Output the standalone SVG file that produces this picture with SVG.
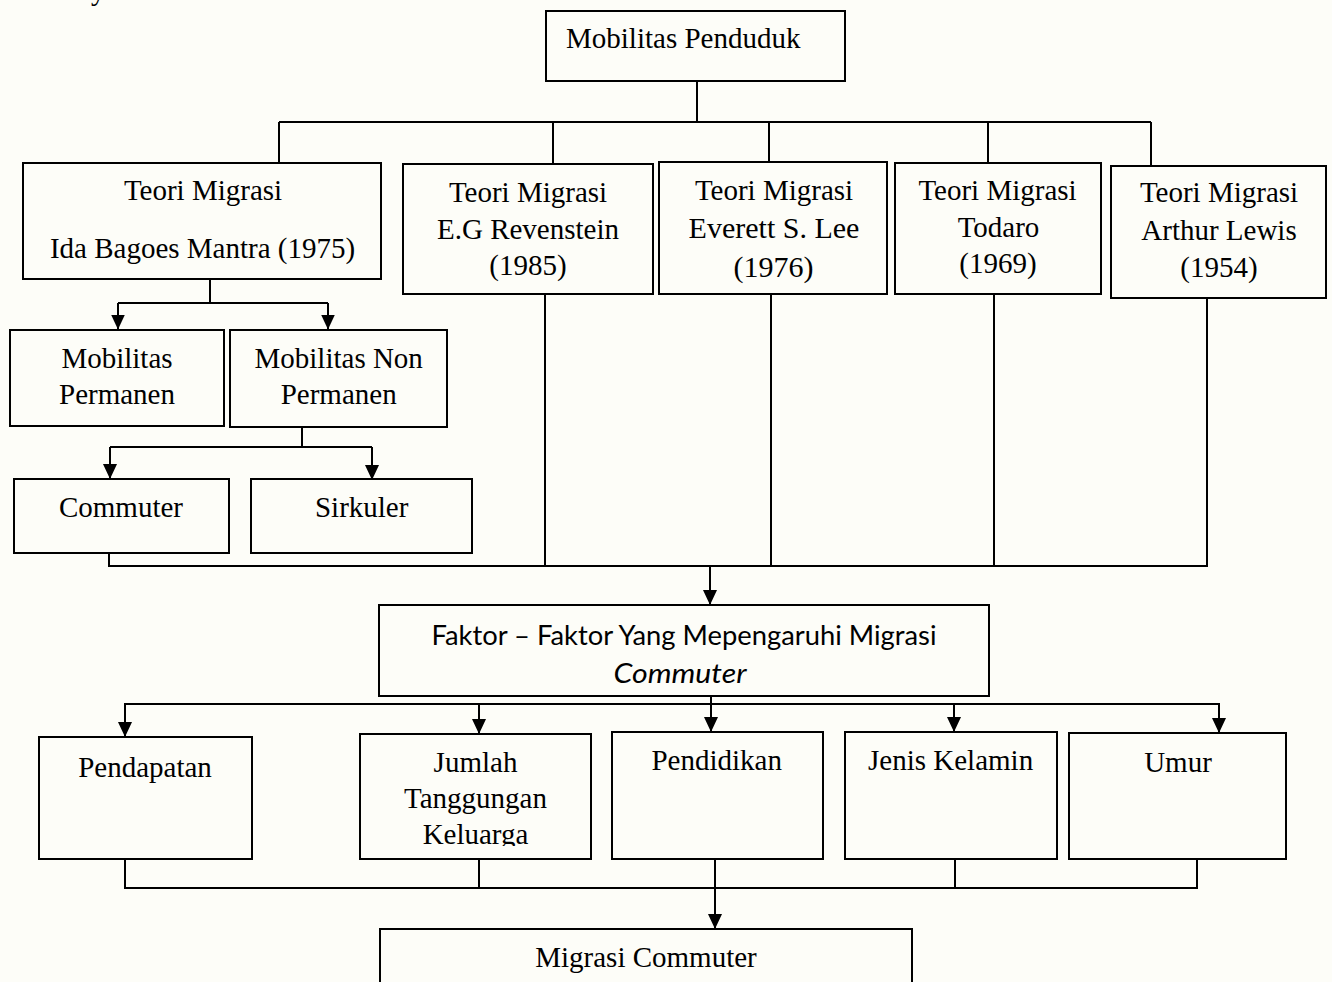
<svg xmlns="http://www.w3.org/2000/svg" width="1332" height="982" viewBox="0 0 1332 982">
<style>
.bg{fill:#fdfdf8}
.box{fill:#fdfdf8;stroke:#000;stroke-width:2}
.t{font-family:"Liberation Serif","Times New Roman",serif;font-size:29px;fill:#000;text-anchor:middle}
.s{font-family:Lato,"Liberation Sans",sans-serif;font-size:27px;fill:#000;text-anchor:middle}
.c path{fill:none;stroke:#000;stroke-width:2}
</style>
<defs>
<marker id="arr" viewBox="0 0 15 14" refX="15" refY="7" markerWidth="15" markerHeight="14" markerUnits="userSpaceOnUse" orient="auto">
<path d="M0,0 L15,7 L0,14 z" fill="#000"/>
</marker>
<clipPath id="clipJ"><rect x="360" y="734" width="231" height="112"/></clipPath>
</defs>
<rect class="bg" x="0" y="0" width="1332" height="982"/>
<text class="t" x="91" y="0" style="text-anchor:start">y</text>

<g class="c" id="connectors">
<path d="M697,81 V122"/>
<path d="M279,122 H1151"/>
<path d="M279,122 V163"/>
<path d="M553,122 V164"/>
<path d="M769,122 V162"/>
<path d="M988,122 V163"/>
<path d="M1151,122 V166"/>
<path d="M210,279 V303"/>
<path d="M118,303 H328"/>
<path d="M118,303 V329.5" marker-end="url(#arr)"/>
<path d="M328,303 V329.5" marker-end="url(#arr)"/>
<path d="M302,427 V447"/>
<path d="M110,447 H372"/>
<path d="M110,447 V479" marker-end="url(#arr)"/>
<path d="M372,447 V480" marker-end="url(#arr)"/>
<path d="M109,553 V566"/>
<path d="M545,294 V566"/>
<path d="M771,294 V566"/>
<path d="M994,294 V566"/>
<path d="M1207,298 V566"/>
<path d="M108,566 H1208"/>
<path d="M710,566 V605" marker-end="url(#arr)"/>
<path d="M711,696 V732" marker-end="url(#arr)"/>
<path d="M124,704 H1220"/>
<path d="M125,704 V737" marker-end="url(#arr)"/>
<path d="M479,704 V734" marker-end="url(#arr)"/>
<path d="M954,704 V732" marker-end="url(#arr)"/>
<path d="M1219,704 V733" marker-end="url(#arr)"/>
<path d="M125,859 V888"/>
<path d="M479,859 V888"/>
<path d="M955,859 V888"/>
<path d="M1197,859 V888"/>
<path d="M124,888 H1198"/>
<path d="M715,859 V929" marker-end="url(#arr)"/>
</g>

<g id="mobilitas-penduduk">
<rect class="box" x="546" y="11" width="299" height="70"/>
<text class="t" x="566" y="48" style="text-anchor:start">Mobilitas Penduduk</text>
</g>
<g id="teori-mantra">
<rect class="box" x="23" y="163" width="358" height="116"/>
<text class="t" x="203" y="200">Teori Migrasi</text>
<text class="t" x="202.5" y="258">Ida Bagoes Mantra (1975)</text>
</g>
<g id="teori-revenstein">
<rect class="box" x="403" y="164" width="250" height="130"/>
<text class="t" x="528" y="201.5">Teori Migrasi</text>
<text class="t" x="528" y="238.5">E.G Revenstein</text>
<text class="t" x="528" y="275">(1985)</text>
</g>
<g id="teori-lee">
<rect class="box" x="659" y="162" width="228" height="132"/>
<text class="t" x="774" y="199.5">Teori Migrasi</text>
<text class="t" x="774" y="238" style="font-size:30px">Everett S. Lee</text>
<text class="t" x="773.5" y="276.5" style="font-size:30px">(1976)</text>
</g>
<g id="teori-todaro">
<rect class="box" x="895" y="163" width="206" height="131"/>
<text class="t" x="997.5" y="200">Teori Migrasi</text>
<text class="t" x="998.5" y="236.5">Todaro</text>
<text class="t" x="998" y="273">(1969)</text>
</g>
<g id="teori-lewis">
<rect class="box" x="1111" y="166" width="215" height="132"/>
<text class="t" x="1219" y="201.5">Teori Migrasi</text>
<text class="t" x="1219" y="240">Arthur Lewis</text>
<text class="t" x="1219" y="276.5">(1954)</text>
</g>
<g id="mobilitas-permanen">
<rect class="box" x="10" y="330" width="214" height="96"/>
<text class="t" x="117" y="367.5">Mobilitas</text>
<text class="t" x="117" y="404">Permanen</text>
</g>
<g id="mobilitas-non-permanen">
<rect class="box" x="230" y="330" width="217" height="97"/>
<text class="t" x="338.7" y="367.5">Mobilitas Non</text>
<text class="t" x="338.7" y="404">Permanen</text>
</g>
<g id="commuter">
<rect class="box" x="14" y="479" width="215" height="74"/>
<text class="t" x="121" y="516.5">Commuter</text>
</g>
<g id="sirkuler">
<rect class="box" x="251" y="479" width="221" height="74"/>
<text class="t" x="361.7" y="516.5">Sirkuler</text>
</g>
<g id="faktor">
<rect class="box" x="379" y="605" width="610" height="91"/>
<text class="s" x="684" y="645" textLength="505" lengthAdjust="spacingAndGlyphs">Faktor – Faktor Yang Mepengaruhi Migrasi</text>
<text class="s" x="680" y="682.5" font-style="italic" textLength="133" lengthAdjust="spacingAndGlyphs">Commuter</text>
</g>
<g id="pendapatan">
<rect class="box" x="39" y="737" width="213" height="122"/>
<text class="t" x="145" y="776.5">Pendapatan</text>
</g>
<g id="jumlah-tanggungan">
<rect class="box" x="360" y="734" width="231" height="125"/>
<g clip-path="url(#clipJ)">
<text class="t" x="475.5" y="771.5">Jumlah</text>
<text class="t" x="475.5" y="808">Tanggungan</text>
<text class="t" x="475.5" y="844">Keluarga</text>
</g>
</g>
<g id="pendidikan">
<rect class="box" x="612" y="732" width="211" height="127"/>
<text class="t" x="716.7" y="770">Pendidikan</text>
</g>
<g id="jenis-kelamin">
<rect class="box" x="845" y="732" width="212" height="127"/>
<text class="t" x="950.6" y="770">Jenis Kelamin</text>
</g>
<g id="umur">
<rect class="box" x="1069" y="733" width="217" height="126"/>
<text class="t" x="1178" y="771.5">Umur</text>
</g>
<g id="migrasi-commuter">
<rect class="box" x="380" y="929" width="532" height="80"/>
<text class="t" x="646" y="966.5">Migrasi Commuter</text>
</g>
</svg>
